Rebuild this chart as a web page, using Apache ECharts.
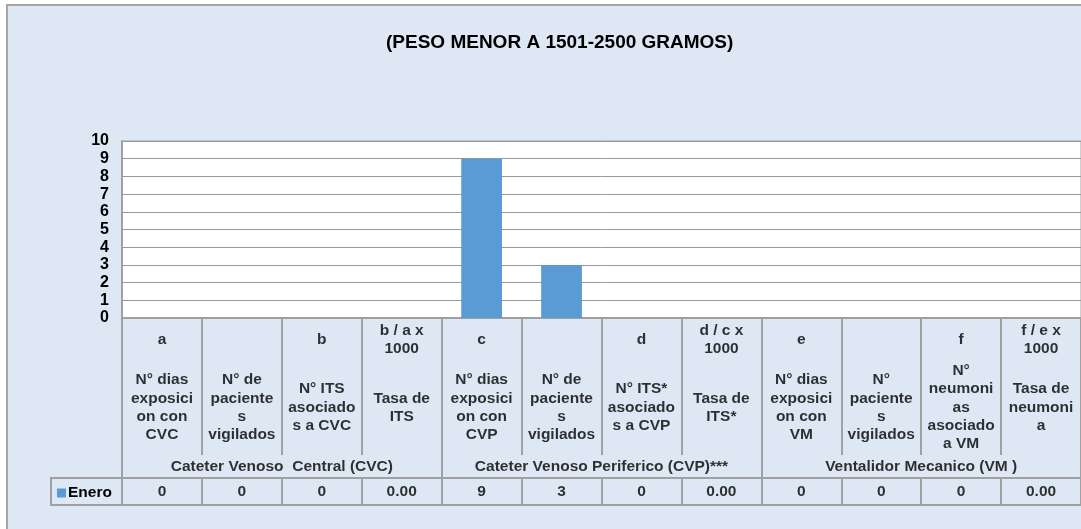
<!DOCTYPE html>
<html>
<head>
<meta charset="utf-8">
<script src="https://cdn.jsdelivr.net/npm/echarts@6/dist/echarts.min.js"></script>
<style>
  body { margin: 0; background: #fff; }
  #main { width: 1081px; height: 529px; }
</style>
</head>
<body>
<div id="main"></div>
<script>
// datos (tabla de Excel)
var columnas = ['c1','c2','c3','c4','c5','c6','c7','c8','c9','c10','c11','c12'];
var letras = ['a', '', 'b', 'b / a x\n1000', 'c', '', 'd', 'd / c x\n1000', 'e', '', 'f', 'f / e x\n1000'];
var descripciones = [
    'N° dias\nexposici\non con\nCVC',
    'N° de\npaciente\ns\nvigilados',
    'N° ITS\nasociado\ns a CVC',
    'Tasa de\nITS',
    'N° dias\nexposici\non con\nCVP',
    'N° de\npaciente\ns\nvigilados',
    'N° ITS*\nasociado\ns a CVP',
    'Tasa de\nITS*',
    'N° dias\nexposici\non con\nVM',
    'N°\npaciente\ns\nvigilados',
    'N°\nneumoni\nas\nasociado\na VM',
    'Tasa de\nneumoni\na'
];
var grupos = ['Cateter Venoso  Central (CVC)', 'Cateter Venoso Periferico (CVP)***', 'Ventalidor Mecanico (VM )'];
var esTasa = [false, false, false, true, false, false, false, true, false, false, false, true];
var enero = [0, 0, 0, 0.00, 9, 3, 0, 0.00, 0, 0, 0, 0.00];
var ticksY = [0, 10, 1];

var fuente = 'Liberation Sans, Arial, sans-serif';
var gris = '#a0a0a0';
var txt = { color: '#000', fontFamily: fuente, fontWeight: 'bold', fontSize: 15.5 };

var chart = echarts.init(document.getElementById('main'));

var gridX = { left: 122, width: 963 };

option = {
    backgroundColor: '#fff',
    animation: false,
    title: {
        text: '(PESO MENOR A 1501-2500 GRAMOS)',
        left: 381,
        top: 28,
        textStyle: { color: '#000', fontFamily: fuente, fontWeight: 'bold', fontSize: 19 }
    },
    legend: {
        data: ['Enero'],
        left: 52,
        top: 480,
        icon: 'rect',
        itemWidth: 9,
        itemHeight: 9,
        textStyle: { color: '#000', fontFamily: fuente, fontWeight: 'bold', fontSize: 15.5, padding: [0, 0, 0, -3] }
    },
    graphic: [
        {
            type: 'rect', z: -10, silent: true,
            shape: { x: 7, y: 5, width: 1100, height: 540 },
            style: { fill: '#dde8f4', stroke: '#a6a6a6', lineWidth: 2 }
        },
        {
            type: 'rect', z: 10, silent: true,
            shape: { x: 51, y: 478, width: 71, height: 27 },
            style: { fill: 'none', stroke: gris, lineWidth: 2 }
        }
    ],
    grid: [
        { left: gridX.left, width: gridX.width, top: 141, height: 177, show: true, backgroundColor: '#fff', borderColor: gris, borderWidth: 1 },
        { left: gridX.left, width: gridX.width, top: 318, height: 137 },
        { left: gridX.left, width: gridX.width, top: 455, height: 23 },
        { left: gridX.left, width: gridX.width, top: 478, height: 27 }
    ],
    xAxis: [
        { gridIndex: 0, type: 'category', data: columnas, axisLine: { lineStyle: { color: gris, width: 2 } }, axisTick: { show: false }, axisLabel: { show: false } },
        { gridIndex: 1, type: 'category', data: columnas, axisLine: { show: false }, axisTick: { show: false }, axisLabel: { show: false },
          splitLine: { show: true, lineStyle: { color: gris, width: 2 } } },
        { gridIndex: 2, type: 'category', data: grupos, axisLine: { show: false }, axisTick: { show: false }, axisLabel: { show: false },
          splitLine: { show: true, lineStyle: { color: gris, width: 2 } } },
        { gridIndex: 3, type: 'category', data: columnas, axisLine: { lineStyle: { color: gris, width: 2 } }, axisTick: { show: false }, axisLabel: { show: false },
          splitLine: { show: true, lineStyle: { color: gris, width: 2 } } },
        { gridIndex: 3, type: 'category', data: columnas, position: 'top', axisLine: { lineStyle: { color: gris, width: 2 } }, axisTick: { show: false }, axisLabel: { show: false } }
    ],
    yAxis: [
        { gridIndex: 0, type: 'value', min: ticksY[0], max: ticksY[1], interval: ticksY[2],
          axisLine: { show: true, lineStyle: { color: gris, width: 2 } }, axisTick: { show: false },
          axisLabel: { margin: 13, color: '#000', fontFamily: fuente, fontWeight: 'bold', fontSize: 16 },
          splitLine: { lineStyle: { color: '#999', width: 1 } } },
        { gridIndex: 1, type: 'value', min: 0, max: 1, show: false },
        { gridIndex: 2, type: 'value', min: 0, max: 1, show: false },
        { gridIndex: 3, type: 'value', min: 0, max: 1, show: false }
    ],
    series: [
        {
            name: 'Enero',
            type: 'bar',
            xAxisIndex: 0, yAxisIndex: 0,
            barWidth: '51%',
            itemStyle: { color: '#5b9bd5' },
            data: enero
        },
        {
            type: 'scatter', xAxisIndex: 1, yAxisIndex: 1, symbolSize: 0, silent: true,
            data: columnas.map(function (c) { return [c, 0.84]; }),
            label: { show: true, position: 'inside', lineHeight: 18, align: 'center', formatter: function (p) { return letras[p.dataIndex]; }, ...txt }
        },
        {
            type: 'scatter', xAxisIndex: 1, yAxisIndex: 1, symbolSize: 0, silent: true,
            data: columnas.map(function (c) { return [c, 0.347]; }),
            label: { show: true, position: 'inside', lineHeight: 18.3, align: 'center', formatter: function (p) { return descripciones[p.dataIndex]; }, ...txt }
        },
        {
            type: 'scatter', xAxisIndex: 2, yAxisIndex: 2, symbolSize: 0, silent: true,
            data: grupos.map(function (g) { return [g, 0.5]; }),
            label: { show: true, position: 'inside', formatter: function (p) { return grupos[p.dataIndex]; }, ...txt }
        },
        {
            type: 'scatter', xAxisIndex: 3, yAxisIndex: 3, symbolSize: 0, silent: true,
            data: columnas.map(function (c) { return [c, 0.5]; }),
            label: { show: true, position: 'inside', formatter: function (p) {
                var v = enero[p.dataIndex];
                return esTasa[p.dataIndex] ? v.toFixed(2) : String(v);
            }, ...txt }
        }
    ]
};
chart.setOption(option);
</script>
</body>
</html>
